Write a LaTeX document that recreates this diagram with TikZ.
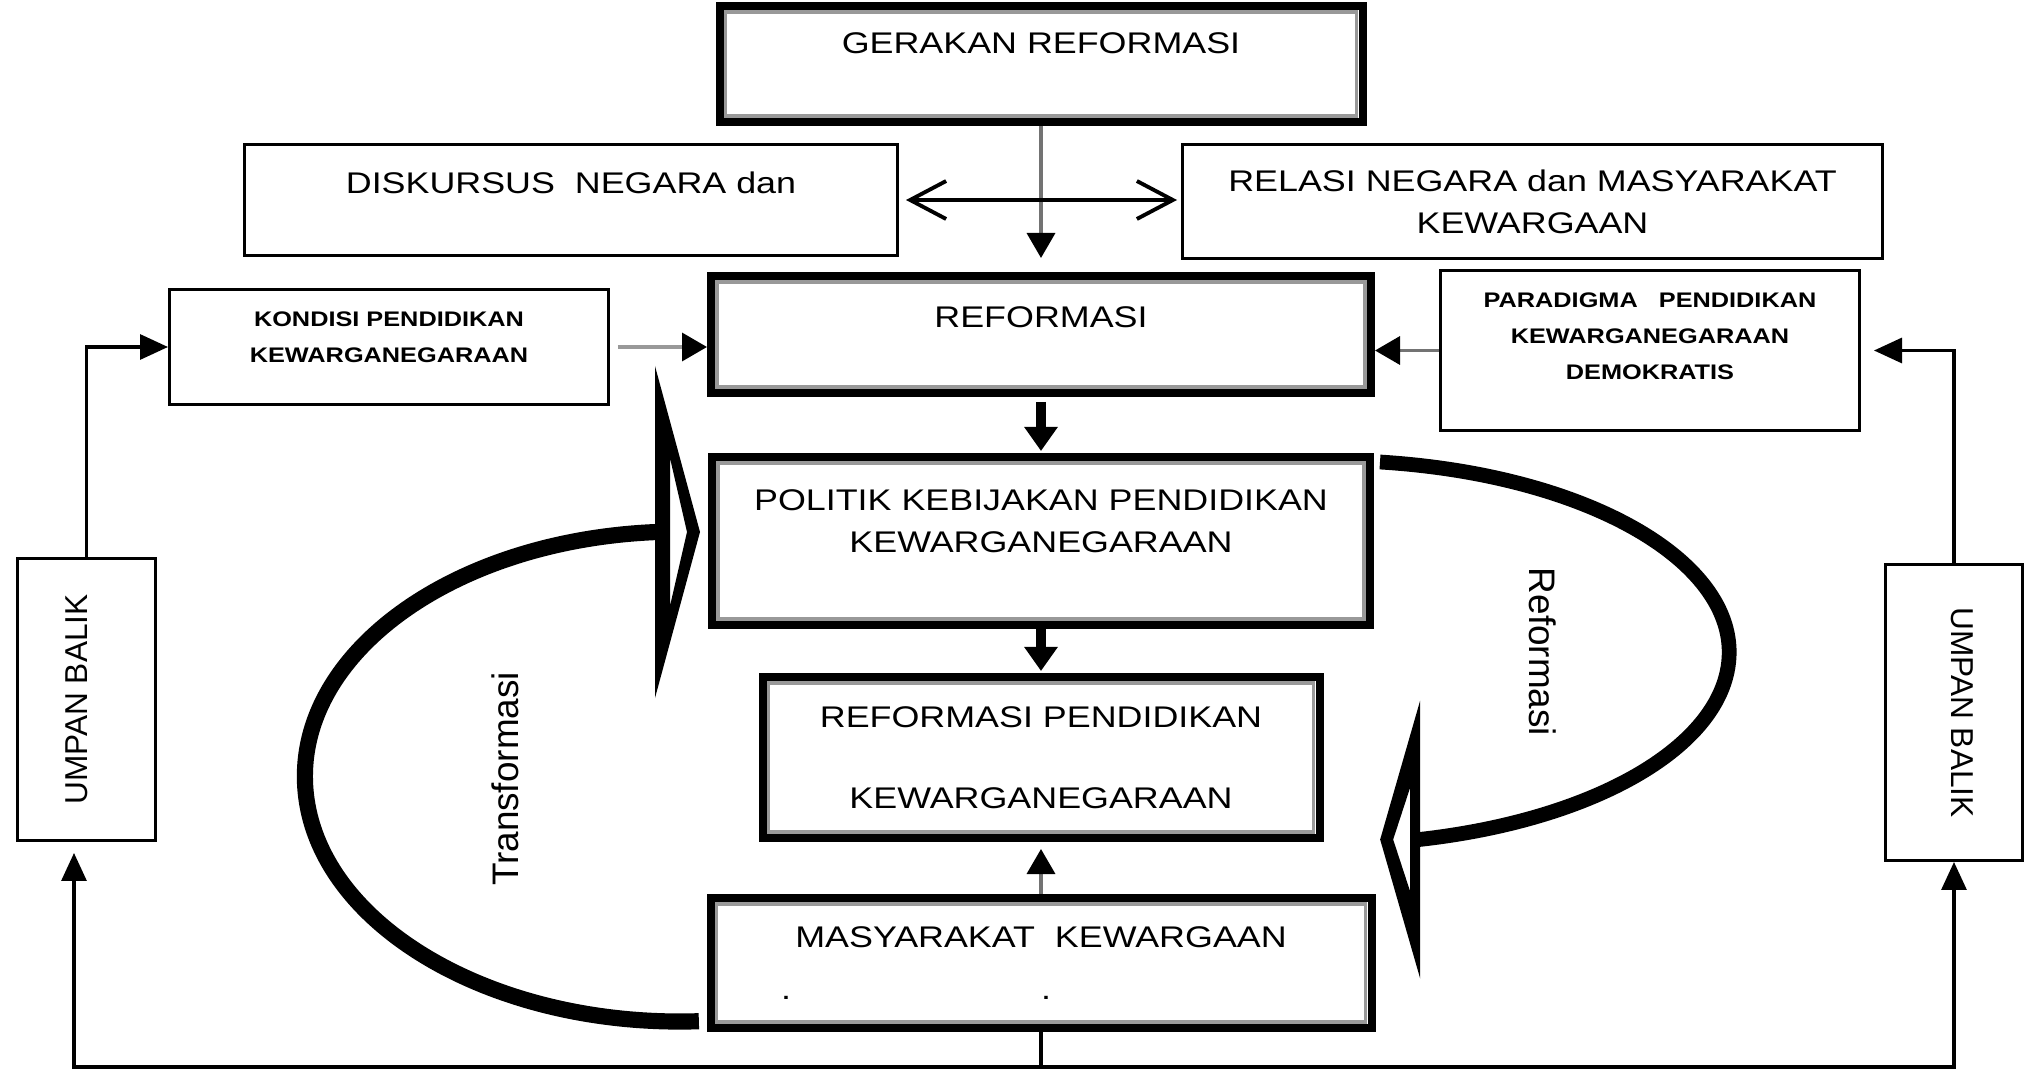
\documentclass[tikz,border=0pt]{standalone}
\usepackage{fontspec}
\setmainfont{Liberation Sans}
\newfontfamily\boxfont[FakeStretch=1.2]{Liberation Sans}
\usepackage{tikz}
\usetikzlibrary{arrows.meta,calc}

\begin{document}
\begin{tikzpicture}[
    box/.style={rectangle, draw=black, line width=0.85pt, inner sep=0pt},
    bigbox/.style={rectangle, draw=black, line width=0.08cm, inner sep=0pt},
    rim/.style={draw=black!40, line width=0.035cm},
    boxtext/.style={inner sep=0pt, align=center, font=\boxfont\fontsize{8.5}{12}\selectfont},
    smalltext/.style={inner sep=0pt, align=center, font=\boxfont\bfseries\fontsize{6}{10.2}\selectfont},
    sidetext/.style={inner sep=0pt, font=\fontsize{9}{11}\selectfont},
    looptext/.style={inner sep=0pt, font=\fontsize{10.5}{12}\selectfont},
    flow/.style={-{Triangle[length=0.25cm, width=0.28cm, color=black]}, line width=1pt, draw=black!55},
    boldflow/.style={-{Triangle[length=0.24cm, width=0.32cm]}, line width=2.6pt},
    feedback/.style={-{Triangle[length=0.28cm, width=0.25cm]}, line width=0.9pt},
    biarrow/.style={{Straight Barb[length=0.36cm, width=0.38cm]}-{Straight Barb[length=0.36cm, width=0.38cm]}, line width=1.1pt},
    sweep/.style={line width=4.2pt}
]
\useasboundingbox (0,0) rectangle (20.28,10.70);

% Main column
\node[bigbox, minimum width=6.43cm, minimum height=1.16cm] (gerakan) at (10.41, 10.06) {};
\node[boxtext] (gerakantxt) at ([yshift=0.21cm]gerakan.center) {GERAKAN REFORMASI};

\node[bigbox, minimum width=6.60cm, minimum height=1.17cm] (reformasi) at (10.41, 7.355) {};
\node[boxtext] (reformasitxt) at ([yshift=0.17cm]reformasi.center) {REFORMASI};

\node[bigbox, minimum width=6.58cm, minimum height=1.68cm] (politik) at (10.41, 5.29) {};
\node[boxtext] (politiktxt) at ([yshift=0.20cm]politik.center) {POLITIK KEBIJAKAN PENDIDIKAN\\KEWARGANEGARAAN};

\node[bigbox, minimum width=5.57cm, minimum height=1.61cm] (refpend) at (10.41, 3.125) {};
\node[boxtext] (refpendtxt) at (refpend.center) {REFORMASI PENDIDIKAN\\[11pt]KEWARGANEGARAAN};

\node[bigbox, minimum width=6.61cm, minimum height=1.30cm] (masyarakat) at (10.41, 1.07) {};
\node[boxtext] (masyarakattxt) at (masyarakat.center) {MASYARAKAT\ \ KEWARGAAN\\[3pt].\hspace*{2.5cm}.\hspace*{2.5cm}};

% grey inner rim of the heavy boxes
\foreach \bx in {gerakan,reformasi,politik,refpend,masyarakat}
  \draw[rim] ([shift={(0.10,-0.10)}]\bx.north west) rectangle ([shift={(-0.10,0.10)}]\bx.south east);

% Side boxes
\node[box, minimum width=6.53cm, minimum height=1.11cm] (diskursus) at (5.71, 8.70) {};
\node[boxtext] (diskursustxt) at ([yshift=0.17cm]diskursus.center) {DISKURSUS\ \ NEGARA dan};

\node[box, minimum width=7.00cm, minimum height=1.14cm] (relasi) at (15.325, 8.685) {};
\node[boxtext] (relasitxt) at (relasi.center) {RELASI NEGARA dan MASYARAKAT\\KEWARGAAN};

\node[box, minimum width=4.39cm, minimum height=1.15cm] (kondisi) at (3.89, 7.23) {};
\node[smalltext] (kondisitxt) at ([yshift=0.10cm]kondisi.center) {KONDISI PENDIDIKAN\\KEWARGANEGARAAN};

\node[box, minimum width=4.19cm, minimum height=1.60cm] (paradigma) at (16.50, 7.195) {};
\node[smalltext] (paradigmatxt) at ([yshift=0.14cm]paradigma.center) {PARADIGMA\ \ \ PENDIDIKAN\\KEWARGANEGARAAN\\DEMOKRATIS};

% Feedback boxes
\node[box, minimum width=1.38cm, minimum height=2.82cm] (umpanL) at (0.865, 3.705) {};
\node[sidetext, rotate=90] (umpanLtxt) at ([xshift=-0.10cm]umpanL.center) {UMPAN BALIK};

\node[box, minimum width=1.37cm, minimum height=2.96cm] (umpanR) at (19.54, 3.575) {};
\node[sidetext, rotate=-90] (umpanRtxt) at ([xshift=0.08cm]umpanR.center) {UMPAN BALIK};

% Straight arrows
\draw[flow, shorten >=0.14cm] (gerakan) -- (reformasi);
\draw[biarrow, shorten <=0.07cm, shorten >=0.04cm] (diskursus.east) -- (diskursus.east -| relasi.west);
\draw[flow, draw=black!40, shorten <=0.08cm] (kondisi.east) -- (kondisi.east -| reformasi.west);
\draw[flow] (paradigma.west) -- (paradigma.west -| reformasi.east);
\draw[boldflow, shorten <=0.05cm, shorten >=0.02cm] (reformasi) -- (politik);
\draw[boldflow, shorten >=0.02cm] (politik) -- (refpend);
\draw[flow, shorten >=0.07cm] (masyarakat) -- (refpend);

% Feedback loops
\draw[line width=0.9pt] (masyarakat.south) -- ++(0,-0.35) coordinate (fork);
\draw[feedback, shorten >=0.11cm] (fork) -| ([xshift=-0.125cm]umpanL.south);
\draw[feedback] (fork) -| (umpanR.south);
\draw[feedback] (umpanL.north) |- (kondisi.west);
\draw[feedback, shorten >=0.13cm] (umpanR.north) |- (paradigma.east);

% Transformasi loop
\coordinate (tTop) at ([xshift=-0.51cm, yshift=0.09cm]politik.west);
\draw[sweep, line width=4.6pt] (tTop) arc[start angle=93.5, end angle=272.9, x radius=3.75cm, y radius=2.45cm];
\begin{scope}[shift={(tTop)}]
  \fill[even odd rule] (-0.02,1.66) -- (0.43,0) -- (-0.02,-1.66) -- cycle
    (0.13,0.74) -- (0.30,0) -- (0.13,-0.74) -- cycle;
\end{scope}
\node[looptext, rotate=90] (transtxt) at (5.05, 2.91) {Transformasi};

% Reformasi loop
\coordinate (rTop) at ([xshift=0.06cm, yshift=-0.09cm]politik.north east);
\draw[sweep] (rTop) arc[start angle=82.7, end angle=-77, x radius=4cm, y radius=1.92cm] coordinate (rEnd);
\begin{scope}[shift={(rEnd)}]
  \fill[even odd rule] (0.01,1.39) -- (-0.39,0) -- (0.01,-1.39) -- cycle
    (-0.09,0.52) -- (-0.26,0) -- (-0.09,-0.52) -- cycle;
\end{scope}
\node[looptext, rotate=-90] (reftxt) at (15.43, 4.18) {Reformasi};

\end{tikzpicture}
\end{document}
